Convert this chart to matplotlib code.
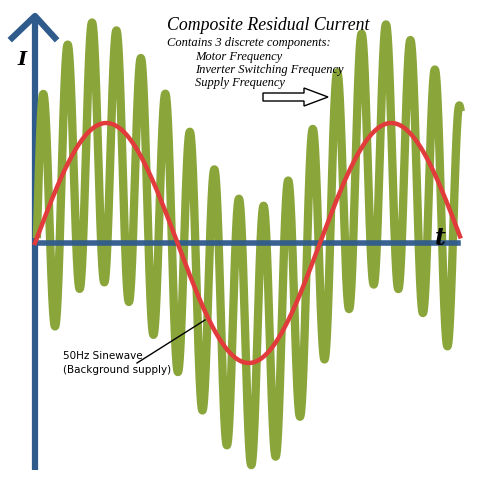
import matplotlib
matplotlib.use("Agg")
import matplotlib.pyplot as plt
import numpy as np
from matplotlib.patches import FancyArrow

# Components (amplitudes relative to supply sinewave, periods in pixels of time axis)
SUPPLY_AMP, SUPPLY_PERIOD = 1.0, 285.0
GREEN_SUPPLY_AMP = 0.75
SWITCH_AMP, SWITCH_PERIOD, SWITCH_SHIFT = 1.08, 24.5, 8.0
MOTOR_AMP, MOTOR_PERIOD = 0.08, 140.0
T_RED = (0, 425)
T_GREEN = (2, 425)

X0, Y0, SCALE = 35, 243, 120  # pixel origin / pixels per unit
AXIS_BLUE = "#2E5A8C"
GREEN = "#8AA53A"
RED = "#E23B3B"

fig = plt.figure(figsize=(4.81, 4.92), dpi=100)
ax = fig.add_axes([0, 0, 1, 1])
ax.set_xlim(-X0, 481 - X0)
ax.set_ylim((Y0 - 492) / SCALE, Y0 / SCALE)
ax.axis("off")

t = np.linspace(*T_GREEN, 3000)
green = (GREEN_SUPPLY_AMP * np.sin(2 * np.pi * t / SUPPLY_PERIOD)
         + SWITCH_AMP * np.cos(2 * np.pi * (t - SWITCH_SHIFT) / SWITCH_PERIOD)
         + MOTOR_AMP * np.sin(2 * np.pi * t / MOTOR_PERIOD))
tr = np.linspace(*T_RED, 1000)
red = SUPPLY_AMP * np.sin(2 * np.pi * tr / SUPPLY_PERIOD)

def py(p):  # pixel row -> data y
    return (Y0 - p) / SCALE

# axes drawn behind curves
ax.plot([0, 0], [py(470), py(16)], color=AXIS_BLUE, lw=4.5, solid_capstyle="butt", zorder=1)
ax.plot([-23, 0, 20], [py(38), py(16), py(38)], color=AXIS_BLUE, lw=4.5, zorder=1)
ax.plot(t, green, color=GREEN, lw=6, zorder=2)
ax.plot([0, 423], [0, 0], color=AXIS_BLUE, lw=4, zorder=3, alpha=0.95)
ax.plot(tr, red, color=RED, lw=3.2, zorder=4)

ax.text(-18, py(60), "I", fontsize=14, fontstyle="italic", fontweight="bold",
        family="DejaVu Serif", ha="left", va="center")
ax.text(405, py(238), "t", fontsize=17, fontstyle="italic", fontweight="bold",
        family="DejaVu Serif", ha="center", va="center")

ser = "Liberation Serif"
ax.text(167 - X0, py(26), "Composite Residual Current", fontsize=12.8, fontstyle="italic",
        family=ser, va="center", zorder=6)
ax.text(167 - X0, py(43), "Contains 3 discrete components:", fontsize=9,
        fontstyle="italic", family=ser, va="center")
for yy, s in [(57, "Motor Frequency"), (70, "Inverter Switching Frequency"),
              (83, "Supply Frequency")]:
    ax.text(195 - X0, py(yy), s, fontsize=9, fontstyle="italic",
            family=ser, va="center")

ax.add_patch(FancyArrow(263 - X0, py(97), 65, 0, width=8 / SCALE, head_width=18 / SCALE,
                        head_length=24, length_includes_head=True, fc="white",
                        ec="black", lw=1, zorder=5))

ax.text(63 - X0, py(356), "50Hz Sinewave", fontsize=7.5, family="DejaVu Sans", va="center")
ax.text(63 - X0, py(370), "(Background supply)", fontsize=7.5, family="DejaVu Sans", va="center")
ax.plot([137 - X0, 205 - X0], [py(363), py(320)], color="black", lw=1, zorder=5)

fig.savefig("out.png", dpi=100)
